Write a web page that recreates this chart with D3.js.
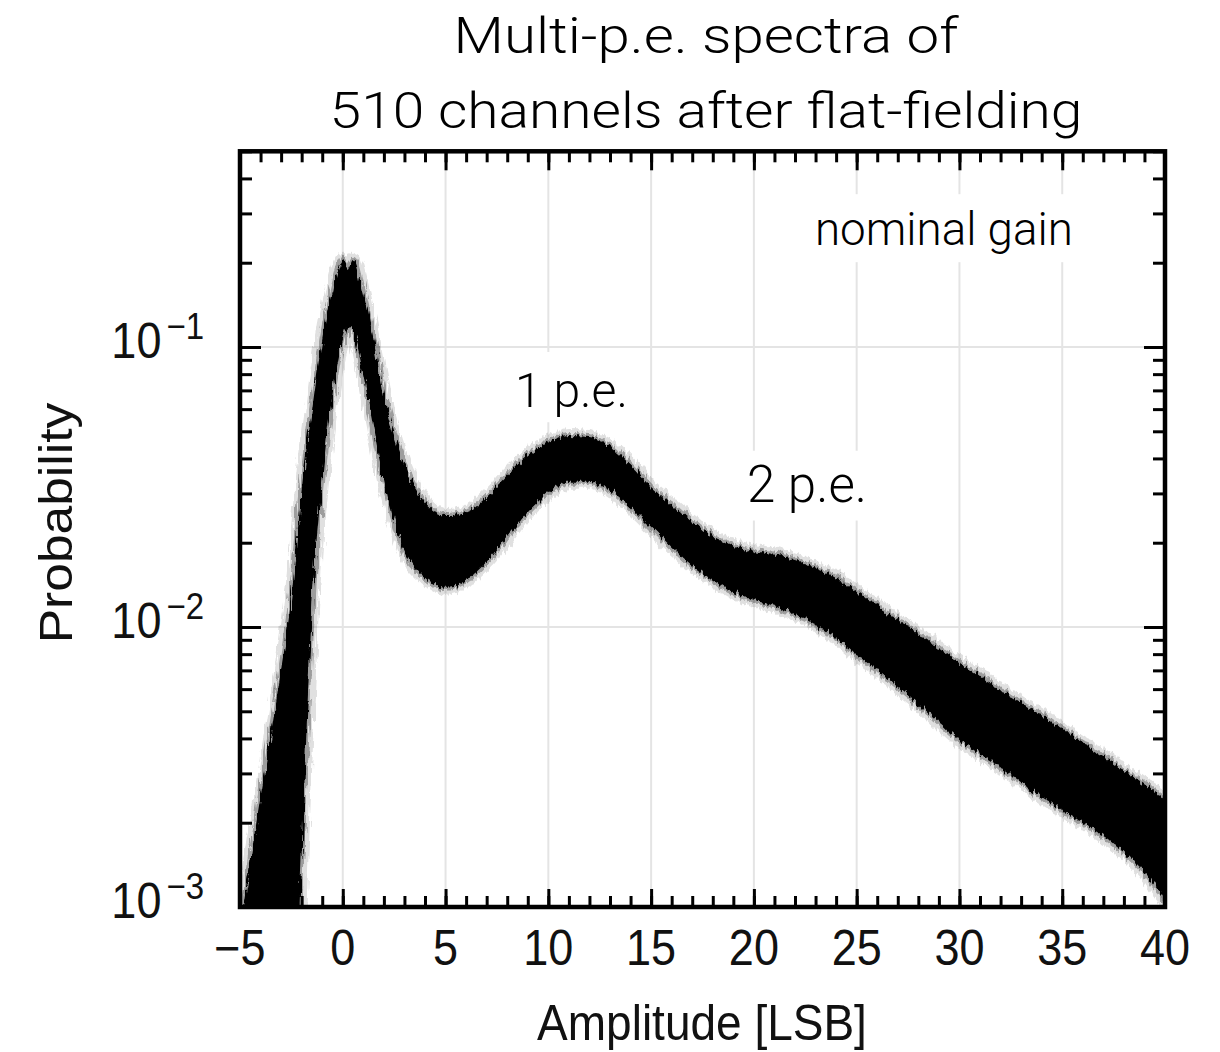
<!DOCTYPE html>
<html><head><meta charset="utf-8">
<script src="https://cdn.jsdelivr.net/npm/d3@7"></script>
<style>
html,body{margin:0;padding:0;background:#fff;}
svg{display:block;}
</style></head><body>
<svg id="chart" width="1220" height="1052"></svg>
<script>
// ---- data ----
const amplitude = [-5,-4,-3,-2.5,-2,-1.5,-1,-0.5,0,0.25,0.5,1,1.5,2,3,4,5,6,7,8,9,10,11,12,13,14,15,16,17,18,19,20,21,22,23,24,25,26,27,28,29,30,31,32,33,34,35,36,37,38,39,40];
const upperEnvelope = [0.000863,0.00247,0.00702,0.0127,0.0308,0.0596,0.106,0.160,0.205,0.19,0.205,0.155,0.106,0.0674,0.0379,0.0279,0.0251,0.0257,0.0291,0.0349,0.0411,0.0458,0.0481,0.0477,0.0440,0.0379,0.0316,0.0273,0.0237,0.0210,0.0195,0.0187,0.0182,0.01734,0.01625,0.01496,0.01334,0.01199,0.01059,0.00944,0.00841,0.00743,0.00668,0.00596,0.00535,0.00481,0.00432,0.00385,0.00346,0.00308,0.00275,0.00241];
const lowerEnvelope = [0.00003,0.00006,0.0001,0.0002,0.00156,0.0115,0.0335,0.0674,0.106,0.118,0.113,0.0794,0.0506,0.0335,0.0188,0.0150,0.0138,0.0147,0.0171,0.0210,0.0257,0.0301,0.0330,0.0330,0.0308,0.0268,0.0228,0.0193,0.0166,0.0147,0.0133,0.0125,0.0119,0.01112,0.01026,0.00914,0.00794,0.00702,0.00611,0.00531,0.00458,0.00395,0.00352,0.00316,0.00279,0.00247,0.00222,0.00200,0.00179,0.00158,0.00133,0.00106];
const xTickValues = [-5,0,5,10,15,20,25,30,35,40];
const xTickLabels = ["\u22125","0","5","10","15","20","25","30","35","40"];
const xGridValues = [0,5,10,15,20,25,30,35];
const yTickValues = [1e-3,1e-2,1e-1];
const yTickExponents = ["\u22123","\u22122","\u22121"];
const yGridValues = [1e-2,1e-1];
const titleLines = ["Multi-p.e. spectra of","510 channels after flat-fielding"];
const annotationTexts = ["nominal gain","1 p.e.","2 p.e."];
const annotationX = [22.97, 8.38, 19.67];
const annotationY = [0.231, 0.0611, 0.0279];
const xAxisTitle = "Amplitude [LSB]";
const yAxisTitle = "Probability";

// ---- layout ----
const svg = d3.select("#chart");
const L = 240, R = 1165, T = 151.3, B = 907;
const x = d3.scaleLinear().domain([-5,40]).range([L,R]);
const y = d3.scaleLog().domain([1e-3,0.5]).range([B,T]);
const axisFont = "'Liberation Sans', Arial, Helvetica, sans-serif";
const lightFont = "Roboto, 'Noto Sans', sans-serif";

const defs = svg.append("defs");
const filt = defs.append("filter").attr("id","jag").attr("filterUnits","userSpaceOnUse")
  .attr("x",0).attr("y",0).attr("width",1220).attr("height",1052);
filt.append("feTurbulence").attr("type","fractalNoise").attr("baseFrequency","0.35 0.05")
  .attr("numOctaves",2).attr("seed",4).attr("result","noise");
filt.append("feDisplacementMap").attr("in","SourceGraphic").attr("in2","noise")
  .attr("scale",9).attr("xChannelSelector","R").attr("yChannelSelector","G");
defs.append("clipPath").attr("id","plotclip").append("rect")
  .attr("x",L).attr("y",T).attr("width",R-L).attr("height",B-T);

// gridlines
const grid = svg.append("g").attr("stroke","#e4e4e4").attr("stroke-width",2);
grid.selectAll("line.gx").data(xGridValues).join("line")
  .attr("x1",d=>x(d)).attr("x2",d=>x(d)).attr("y1",T).attr("y2",B);
grid.selectAll("line.gy").data(yGridValues).join("line")
  .attr("x1",L).attr("x2",R).attr("y1",d=>y(d)).attr("y2",d=>y(d));

// white boxes behind annotations (computed after text measurement)
const boxLayer = svg.append("g");

// band of spectra
const band = amplitude.map((a,i)=>({x:a,hi:upperEnvelope[i],lo:lowerEnvelope[i]}));
const area = d3.area().x(d=>x(d.x)).y0(d=>y(d.lo)).y1(d=>y(d.hi)).curve(d3.curveMonotoneX);
const bandG = svg.append("g").attr("clip-path","url(#plotclip)").append("g").attr("filter","url(#jag)");
bandG.append("path").attr("d",area(band)).attr("fill","none")
  .attr("stroke","#000").attr("stroke-opacity",0.12).attr("stroke-width",14).attr("stroke-linejoin","round");
bandG.append("path").attr("d",area(band)).attr("fill","none")
  .attr("stroke","#000").attr("stroke-opacity",0.3).attr("stroke-width",6).attr("stroke-linejoin","round");
bandG.append("path").attr("d",area(band)).attr("fill","#000");

// ticks (inward, all four sides)
function tickStyle(g){ g.select(".domain").remove(); g.selectAll(".tick line").attr("stroke","#000").attr("stroke-width",3); g.selectAll(".tick text").remove(); }
const xMinor = d3.range(-5,41,1);
const yMinor = y.ticks();
const yMajor = yTickValues;
svg.append("g").attr("transform",`translate(0,${B})`).call(d3.axisBottom(x).tickValues(xMinor).tickSize(-11)).call(tickStyle);
svg.append("g").attr("transform",`translate(0,${B})`).call(d3.axisBottom(x).tickValues(xTickValues).tickSize(-18)).call(tickStyle);
svg.append("g").attr("transform",`translate(0,${T})`).call(d3.axisTop(x).tickValues(xMinor).tickSize(-11)).call(tickStyle);
svg.append("g").attr("transform",`translate(0,${T})`).call(d3.axisTop(x).tickValues(xTickValues).tickSize(-19)).call(tickStyle);
svg.append("g").attr("transform",`translate(${L},0)`).call(d3.axisLeft(y).tickValues(yMinor).tickSize(-12)).call(tickStyle);
svg.append("g").attr("transform",`translate(${L},0)`).call(d3.axisLeft(y).tickValues(yMajor).tickSize(-21)).call(tickStyle);
svg.append("g").attr("transform",`translate(${R},0)`).call(d3.axisRight(y).tickValues(yMinor).tickSize(-12)).call(tickStyle);
svg.append("g").attr("transform",`translate(${R},0)`).call(d3.axisRight(y).tickValues(yMajor).tickSize(-21)).call(tickStyle);

// frame
svg.append("rect").attr("x",L).attr("y",T).attr("width",R-L).attr("height",B-T)
  .attr("fill","none").attr("stroke","#000").attr("stroke-width",4.5);

// x tick labels
svg.append("g").selectAll("text").data(xTickValues).join("text")
  .attr("transform",(d)=>`translate(${x(d)},965) scale(1,1.1)`)
  .attr("text-anchor","middle").attr("font-family",axisFont).attr("font-size",45)
  .attr("fill","#111").text((d,i)=>xTickLabels[i]);

// y tick labels 10^n
const yl = svg.append("g").selectAll("text").data(yTickValues).join("text")
  .attr("transform",d=>`translate(204,${y(d)+11}) scale(1,1.1)`)
  .attr("text-anchor","end").attr("font-family",axisFont).attr("font-size",45).attr("fill","#111");
yl.append("tspan").text("10");
yl.append("tspan").attr("font-size",33).attr("dx",5).attr("dy",-17).text((d,i)=>yTickExponents[i]);

// axis titles
svg.append("text").attr("transform","translate(702,1040) scale(1,1.1)")
  .attr("text-anchor","middle").attr("font-family",axisFont).attr("font-size",46).attr("fill","#111").text(xAxisTitle);
svg.append("text").attr("transform","translate(72,523) rotate(-90) scale(1.12,1)")
  .attr("text-anchor","middle").attr("font-family",axisFont).attr("font-size",46).attr("fill","#111").text(yAxisTitle);

// title (Roboto Light, widened horizontally to the reference width)
const titleY = [53,128];
const titleW = [505,753];
svg.append("g").selectAll("text").data(titleLines).join("text")
  .attr("x",0).attr("y",0).attr("text-anchor","middle")
  .attr("font-family",lightFont).attr("font-weight",300).attr("font-size",50).attr("fill","#000")
  .text(d=>d)
  .each(function(d,i){
    const w=this.getComputedTextLength();
    d3.select(this).attr("transform",`translate(706,${titleY[i]}) scale(${titleW[i]/w},1)`);
  });

// annotations
const annW = [258,113,120];
const boxPad = [[18,30,25],[18,33,22],[18,15,18]];
svg.append("g").selectAll("text").data(annotationTexts).join("text")
  .attr("x",(d,i)=>x(annotationX[i])).attr("y",(d,i)=>y(annotationY[i]))
  .attr("font-family",lightFont).attr("font-weight",300).attr("font-size",46).attr("fill","#000")
  .text(d=>d)
  .each(function(d,i){
    const w=this.getComputedTextLength(); d3.select(this).attr("font-size",46*annW[i]/w);
    const bb=this.getBBox();
    boxLayer.append("rect").attr("x",bb.x-boxPad[i][0]).attr("y",bb.y-boxPad[i][1]*0.3)
      .attr("width",bb.width+2*boxPad[i][0]).attr("height",bb.height+boxPad[i][2]*0.6).attr("fill","#fff");
  });
</script>
</body></html>
